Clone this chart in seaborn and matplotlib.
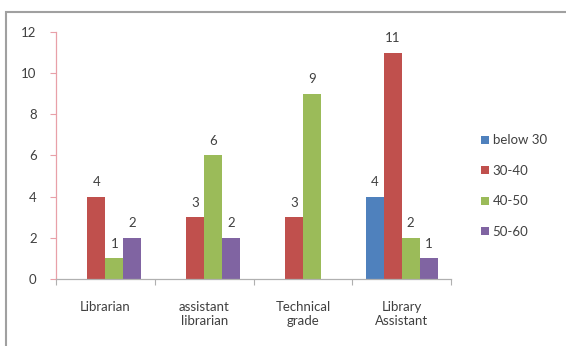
import matplotlib
matplotlib.use("Agg")
import matplotlib.pyplot as plt
from matplotlib.patches import Rectangle
import seaborn as sns
import pandas as pd

categories = ["Librarian", "assistant\nlibrarian", "Technical\ngrade", "Library\nAssistant"]
series = ["below 30", "30-40", "40-50", "50-60"]
below_30 = [0, 0, 0, 4]
s30_40 = [4, 3, 3, 11]
s40_50 = [1, 6, 9, 2]
s50_60 = [2, 2, 0, 1]
yticks = [0, 2, 4, 6, 8, 10, 12]
colors = ["#4F81BD", "#C0504D", "#9BBB59", "#8064A2"]

rows = []
for s, vals in zip(series, [below_30, s30_40, s40_50, s50_60]):
    for c, v in zip(categories, vals):
        rows.append({"category": c, "series": s, "value": v})
df = pd.DataFrame(rows)

sns.set_style("white")
plt.rcParams["font.family"] = ["Lato", "DejaVu Sans"]

fig = plt.figure(figsize=(5.66, 3.46), dpi=100)
ax = fig.add_axes([0.099, 0.194, 0.698, 0.7135])

sns.barplot(data=df, x="category", y="value", hue="series", order=categories,
            hue_order=series, palette=colors, width=0.73, saturation=1,
            edgecolor="none", linewidth=0, ax=ax, legend=True)

for cont in ax.containers:
    labels = [f"{int(b.get_height())}" if b.get_height() > 0 else "" for b in cont]
    ax.bar_label(cont, labels=labels, padding=6, fontsize=9.5, color="#404040")

ax.set_ylim(0, 12)
ax.set_xlim(-0.5, 3.5)
ax.set_yticks(yticks)
ax.set_xlabel("")
ax.set_ylabel("")
ax.tick_params(axis="y", left=True, length=4, width=0.8, color="#E8A0A8",
               labelsize=9.5, labelcolor="#404040", pad=10)
ax.tick_params(axis="x", which="major", length=0, labelsize=9.5,
               labelcolor="#404040", pad=16)
ax.set_xticks([-0.5, 0.5, 1.5, 2.5, 3.5], minor=True)
ax.tick_params(axis="x", which="minor", bottom=True, length=4, width=0.8,
               color="#B0B0B0")
for side in ["top", "right"]:
    ax.spines[side].set_visible(False)
ax.spines["left"].set_color("#E8A0A8")
ax.spines["left"].set_linewidth(0.9)
ax.spines["bottom"].set_color("#B0B0B0")
ax.spines["bottom"].set_linewidth(0.9)

leg = ax.legend(loc="center left", bbox_to_anchor=(0.84, 0.462),
                bbox_transform=fig.transFigure, frameon=False, fontsize=9.5,
                labelspacing=1.4, handlelength=0.6, handleheight=0.6,
                handletextpad=0.3, borderaxespad=0)
for t in leg.get_texts():
    t.set_color("#404040")

fig.patches.append(Rectangle((6 / 566, -0.05), 1.0, 1 - 12 / 346 + 0.05,
                             transform=fig.transFigure, fill=False,
                             edgecolor="#A0A0A0", linewidth=1.5, zorder=0))

fig.savefig("out.png", dpi=100)
